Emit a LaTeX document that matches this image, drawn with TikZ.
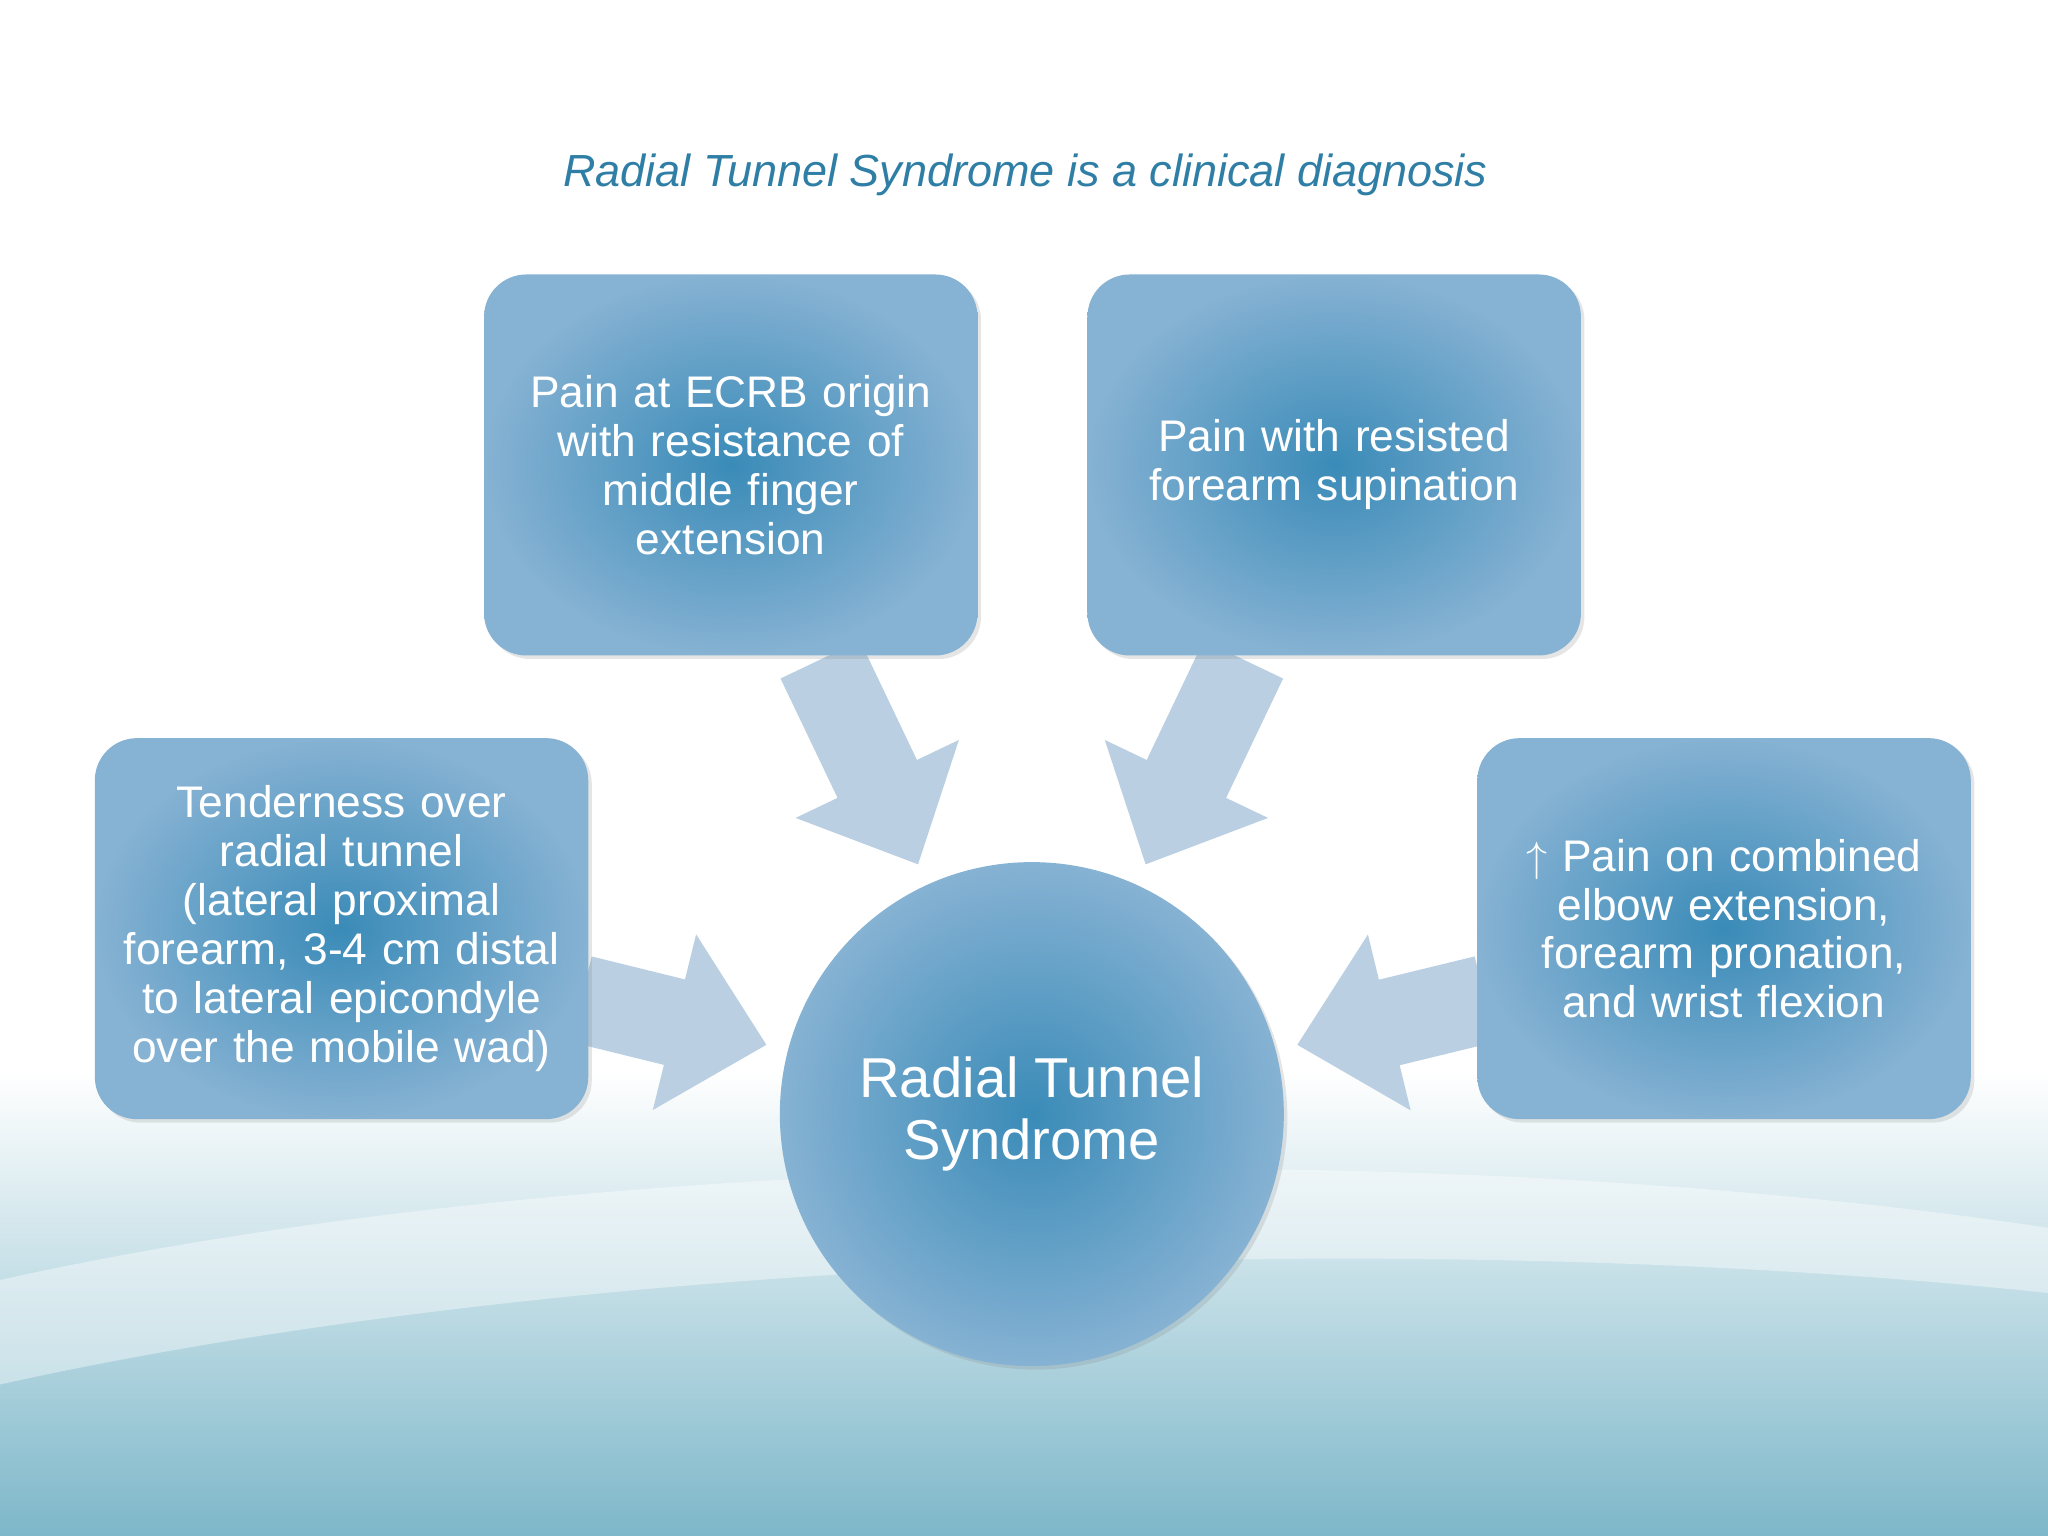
\documentclass[tikz,border=0pt]{standalone}
\usepackage{fontspec}
\setmainfont{Liberation Sans}
\usetikzlibrary{arrows.meta,shadows}
\definecolor{titleblue}{HTML}{2F7EA6}
\definecolor{boxin}{HTML}{3A8BB8}
\definecolor{boxout}{HTML}{86B2D3}
\definecolor{arrowgray}{HTML}{BACFE2}
\definecolor{seablue}{HTML}{7DB7C9}
\tikzset{
  card/.style={rounded corners=12pt, inner color=boxin, outer color=boxout,
    minimum width=4.79cm, minimum height=3.81cm, text width=4.7cm, align=center,
    text=white, font=\fontsize{12.6}{13.9}\selectfont,
    drop shadow={opacity=0.2, shadow xshift=1pt, shadow yshift=-1pt}},
  hub/.style={circle, inner color=boxin, outer color=boxout, minimum size=5.04cm,
    align=center, text=white, font=\fontsize{16}{17.5}\selectfont,
    drop shadow={opacity=0.2, shadow xshift=1pt, shadow yshift=-1pt}},
  flow/.style={line width=0.88cm, draw=arrowgray,
    -{Triangle[width=1.75cm, length=0.95cm]}}
}
\begin{document}
\begin{tikzpicture}[x=0.01306cm, y=-0.01306cm]
  \useasboundingbox (0,0) rectangle (1568,1176);
  % background
  \shade[top color=white, bottom color=white] (0,0) rectangle (1568,820);
  \shade[top color=white, bottom color=seablue] (0,820) rectangle (1568,1176);
  \fill[white, opacity=0.4] (0,980) .. controls (450,880) and (1100,870) .. (1568,940)
    -- (1568,990) .. controls (1100,940) and (450,960) .. (0,1060) -- cycle;
  \node[text=titleblue, font=\fontsize{12.8}{14}\selectfont\itshape] (title) at (785,134)
    {Radial Tunnel Syndrome is a clinical diagnosis};
  % arrows
  \coordinate (s1) at (628,505);
  \coordinate (s2) at (952,505);
  \coordinate (s3) at (445,765);
  \coordinate (s4) at (1137,765);
  \coordinate (a1) at (703,662);
  \coordinate (a2) at (877,662);
  \coordinate (a3) at (587,800);
  \coordinate (a4) at (993,800);
  \draw[flow] (s1) -- (a1);
  \draw[flow] (s2) -- (a2);
  \draw[flow] (s3) -- (a3);
  \draw[flow] (s4) -- (a4);
  % nodes
  \node[card] (ecrb) at (559.5,356) {Pain at ECRB origin\\with resistance of\\middle finger\\extension};
  \node[card] (supin) at (1021.5,356) {Pain with resisted\\forearm supination};
  \node[card] (tender) at (261.5,711) {Tenderness over\\radial tunnel\\(lateral proximal\\forearm, 3-4 cm distal\\to lateral epicondyle\\over the mobile wad)};
  \node[card] (combo) at (1320,711) {$\uparrow$ Pain on combined\\elbow extension,\\forearm pronation,\\and wrist flexion};
  \node[hub] (rts) at (790,853) {Radial Tunnel\\Syndrome};
\end{tikzpicture}
\end{document}
